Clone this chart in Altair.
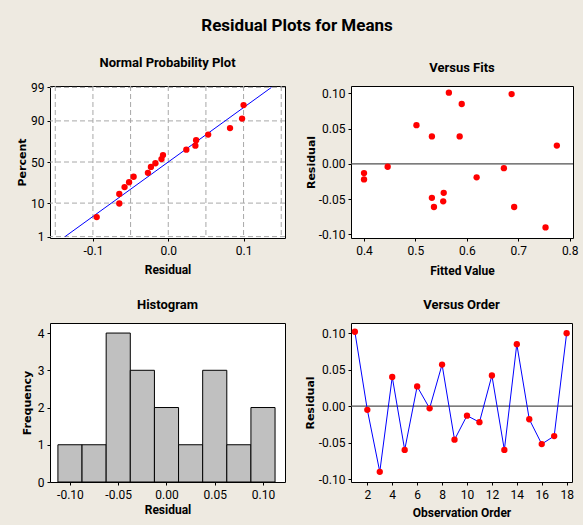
import altair as alt
import pandas as pd
from statistics import NormalDist

# ---------------- data ----------------
# Normal probability plot: ordered residuals and plotted percent
npp_resid = [-0.095, -0.065, -0.065, -0.058, -0.052, -0.046, -0.027, -0.023, -0.017,
             -0.009, -0.007, 0.024, 0.036, 0.037, 0.053, 0.082, 0.098, 0.100]
npp_pct = [4.3, 9.8, 15.9, 21.7, 26.4, 32.3, 36.8, 43.9, 48.4,
           53.6, 58.5, 65.0, 69.5, 75.2, 80.4, 85.5, 91.2, 96.2]
fit_line_resid = [-0.137, 0.137]
fit_line_pct = [1, 99]
npp_grid_resid = [-0.15, -0.10, -0.05, 0.0, 0.05, 0.10, 0.15]
pct_ticks = [1, 10, 50, 90, 99]

# Versus fits
fits_fitted = [0.400, 0.400, 0.446, 0.502, 0.532, 0.532, 0.536, 0.554, 0.555,
               0.565, 0.586, 0.590, 0.619, 0.672, 0.687, 0.692, 0.753, 0.775]
fits_resid = [-0.013, -0.022, -0.004, 0.055, 0.039, -0.048, -0.061, -0.053, -0.041,
              0.101, 0.039, 0.085, -0.019, -0.006, 0.099, -0.061, -0.090, 0.026]

# Histogram
hist_centers = [-0.100, -0.075, -0.050, -0.025, 0.000, 0.025, 0.050, 0.075, 0.100]
hist_counts = [1, 1, 4, 3, 2, 1, 3, 1, 2]
hist_half_width = 0.0125

# Versus order
order_obs = list(range(1, 19))
order_resid = [0.102, -0.005, -0.090, 0.040, -0.060, 0.027, -0.003, 0.057, -0.046,
               -0.013, -0.022, 0.042, -0.060, 0.085, -0.018, -0.052, -0.041, 0.100]

resid_ticks = [-0.1, -0.05, 0.0, 0.05, 0.1]

# ---------------- styling ----------------
NARROW = "Roboto, Liberation Sans, sans-serif"
WIDE = "DejaVu Sans, Verdana, sans-serif"
RED = "#FF0000"
BLUE = "#0000FF"
fix_minus = "replace(format(datum.value, '{}'), '\u2212', '-')"

def yaxis(title, values, fmt, tx, expr=None):
    kw = dict(title=title, values=values, titleFont=WIDE, titleFontSize=11,
              titleX=tx, titleBaseline="middle", titleAngle=-90, labelPadding=3,
              labelOverlap=False)
    kw["labelExpr"] = expr if expr else fix_minus.format(fmt)
    return alt.Axis(**kw)

def xaxis(title, values, fmt, ty):
    return alt.Axis(title=title, values=values, labelExpr=fix_minus.format(fmt),
                    titleY=ty, titleBaseline="middle", labelPadding=4,
                    labelOverlap=False)

PANEL_OFFSET = 11

# ---------------- Normal probability plot ----------------
npp_df = pd.DataFrame({"resid": npp_resid, "pct": npp_pct})
line_df = pd.DataFrame({"resid": fit_line_resid, "pct": fit_line_pct})
gridx_df = pd.DataFrame({"resid": npp_grid_resid})
gridy_df = pd.DataFrame({"pct": pct_ticks})
z_ticks = [NormalDist().inv_cdf(p / 100) for p in pct_ticks]

xs_npp = alt.Scale(domain=[-0.157, 0.155], nice=False, zero=False)
ys_npp = alt.Scale(domain=[-2.37, 2.37], nice=False, zero=False)

npp_x_axis = xaxis("Residual", [-0.1, 0.0, 0.1], ".1f", 31)
npp_y_axis = yaxis("Percent", z_ticks, None, -28,
                   expr="format(cumulativeNormal(datum.value) * 100, '.0f')")
zcalc = "quantileNormal(datum.pct / 100)"

g_v = alt.Chart(gridx_df).mark_rule(color="#A8A8A8", strokeDash=[5, 3], strokeWidth=1).encode(
    x=alt.X("resid:Q", scale=xs_npp, axis=npp_x_axis))
g_h = alt.Chart(gridy_df).transform_calculate(z=zcalc).mark_rule(
    color="#A8A8A8", strokeDash=[5, 3], strokeWidth=1).encode(
    y=alt.Y("z:Q", scale=ys_npp, axis=npp_y_axis))
fit_line = alt.Chart(line_df).transform_calculate(z=zcalc).mark_line(
    color=BLUE, strokeWidth=1).encode(
    x=alt.X("resid:Q", scale=xs_npp, axis=npp_x_axis),
    y=alt.Y("z:Q", scale=ys_npp, axis=npp_y_axis))
npp_pts = alt.Chart(npp_df).transform_calculate(z=zcalc).mark_circle(
    color=RED, size=40, opacity=1).encode(
    x=alt.X("resid:Q", scale=xs_npp, axis=npp_x_axis),
    y=alt.Y("z:Q", scale=ys_npp, axis=npp_y_axis))
npp = alt.layer(g_v, g_h, fit_line, npp_pts).properties(
    width=235, height=152, title=alt.TitleParams("Normal Probability Plot", offset=PANEL_OFFSET))

# ---------------- Versus fits ----------------
fits_df = pd.DataFrame({"fitted": fits_fitted, "resid": fits_resid})
xs_f = alt.Scale(domain=[0.3747, 0.8064], nice=False, zero=False)
ys_f = alt.Scale(domain=[-0.105, 0.1105], nice=False, zero=False)
fits_x_axis = xaxis("Fitted Value", [0.4, 0.5, 0.6, 0.7, 0.8], ".1f", 32)
fits_y_axis = yaxis("Residual", resid_ticks, ".2f", -40)
zero_f = alt.Chart(pd.DataFrame({"r": [0.0]})).mark_rule(color="#505050", strokeWidth=1.3).encode(
    y=alt.Y("r:Q", scale=ys_f, axis=fits_y_axis))
fits_pts = alt.Chart(fits_df).mark_circle(color=RED, size=40, opacity=1).encode(
    x=alt.X("fitted:Q", scale=xs_f, axis=fits_x_axis),
    y=alt.Y("resid:Q", scale=ys_f, axis=fits_y_axis))
fits = alt.layer(zero_f, fits_pts).properties(
    width=222, height=152, title=alt.TitleParams("Versus Fits", offset=PANEL_OFFSET))

# ---------------- Histogram ----------------
hist_df = pd.DataFrame({"center": hist_centers, "count": hist_counts})
xs_h = alt.Scale(domain=[-0.1207, 0.1228], nice=False, zero=False)
ys_h = alt.Scale(domain=[0, 4.27], nice=False, zero=True)
hist = alt.Chart(hist_df).transform_calculate(
    lo=f"datum.center - {hist_half_width}", hi=f"datum.center + {hist_half_width}"
).mark_rect(fill="#C0C0C0", stroke="#000000", strokeWidth=1).encode(
    x=alt.X("lo:Q", scale=xs_h, axis=xaxis("Residual", resid_ticks, ".2f", 27)),
    x2="hi:Q",
    y=alt.Y("count:Q", scale=ys_h, axis=yaxis("Frequency", [0, 1, 2, 3, 4], "d", -23)),
    y2=alt.datum(0),
).properties(width=235, height=159, title=alt.TitleParams("Histogram", offset=PANEL_OFFSET))

# ---------------- Versus order ----------------
order_df = pd.DataFrame({"obs": order_obs, "resid": order_resid})
xs_o = alt.Scale(domain=[0.69, 18.43], nice=False, zero=False)
ys_o = alt.Scale(domain=[-0.104, 0.114], nice=False, zero=False)
order_x_axis = xaxis("Observation Order", list(range(2, 19, 2)), "d", 30)
order_y_axis = yaxis("Residual", resid_ticks, ".2f", -41)
zero_o = alt.Chart(pd.DataFrame({"r": [0.0]})).mark_rule(color="#505050", strokeWidth=1.3).encode(
    y=alt.Y("r:Q", scale=ys_o, axis=order_y_axis))
o_line = alt.Chart(order_df).mark_line(color=BLUE, strokeWidth=1).encode(
    x=alt.X("obs:Q", scale=xs_o, axis=order_x_axis),
    y=alt.Y("resid:Q", scale=ys_o, axis=order_y_axis))
o_pts = alt.Chart(order_df).mark_circle(color=RED, size=40, opacity=1).encode(
    x=alt.X("obs:Q", scale=xs_o, axis=order_x_axis),
    y=alt.Y("resid:Q", scale=ys_o, axis=order_y_axis))
order = alt.layer(zero_o, o_line, o_pts).properties(
    width=221, height=159, title=alt.TitleParams("Versus Order", offset=PANEL_OFFSET))

# ---------------- compose ----------------
chart = alt.concat(
    npp, fits, hist, order, columns=2,
    spacing={"row": 85, "column": 66}, bounds="flush",
).properties(
    title=alt.TitleParams("Residual Plots for Means", fontSize=17, anchor="middle", offset=22),
    background="#EEEAE1",
    padding={"left": 15, "top": 16, "right": 4, "bottom": 6},
).configure_view(
    fill="white", stroke="black", strokeWidth=1
).configure_axis(
    domain=False, grid=False, labelFont=NARROW, labelFontSize=12, labelColor="black",
    tickColor="black", tickSize=3, titleFont=NARROW, titleFontSize=12,
    titleFontWeight="bold", titleColor="black", labelOverlap=False
).configure_title(
    font=NARROW, fontSize=13, fontWeight="bold", color="black"
)

chart.save("out.html", embed_options={"renderer": "svg", "actions": False})
